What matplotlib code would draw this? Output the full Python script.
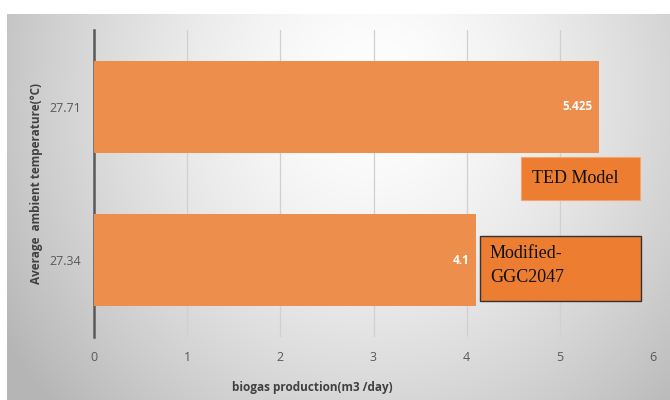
import numpy as np
import matplotlib
matplotlib.use("Agg")
import matplotlib.pyplot as plt

categories = ["27.34", "27.71"]
values = [4.1, 5.425]
value_labels = ["4.1", "5.425"]
xticks = [0, 1, 2, 3, 4, 5, 6]

W, H = 670, 400
fig = plt.figure(figsize=(W / 100, H / 100), dpi=100)
fig.patch.set_facecolor("white")

# gradient background panel
bx0, by0, bx1, by1 = 7, 14, 670, 400
bg = fig.add_axes([bx0 / W, 1 - by1 / H, (bx1 - bx0) / W, (by1 - by0) / H], zorder=0)
ny, nx = 200, 330
yy, xx = np.mgrid[0:ny, 0:nx]
cx, cy = nx * 0.55, ny * 0.2
r = np.sqrt(((xx - cx) / (nx * 0.55)) ** 2 + ((yy - cy) / (ny * 1.0)) ** 2)
r = np.clip(r, 0, 1.2)
val = 1.0 - 0.22 * r ** 1.5
img = np.dstack([val, val, val])
bg.imshow(img, aspect="auto", extent=[0, 1, 0, 1], interpolation="bilinear")
bg.set_axis_off()

ax = fig.add_axes([94 / W, 1 - 337 / H, (653 - 94) / W, (337 - 30) / H], zorder=1)
ax.patch.set_alpha(0)
y = np.arange(len(categories))
ax.barh(y, values, height=0.6, color="#EE8E4D", zorder=3)
ax.set_ylim(-0.5, 1.5)
ax.set_xlim(0, 6)
ax.set_xticks(xticks)
ax.set_yticks(y)
ax.set_yticklabels(categories)
ax.grid(axis="x", color="#D0D0D0", linewidth=0.9, zorder=0)
for s in ["top", "right", "bottom"]:
    ax.spines[s].set_visible(False)
ax.spines["left"].set_color("#595959")
ax.spines["left"].set_linewidth(1.8)
ax.tick_params(axis="both", length=0, colors="#595959", labelsize=9, pad=8)
ax.tick_params(axis="x", pad=10)
ax.tick_params(axis="y", pad=9)
for lab in ax.get_xticklabels() + ax.get_yticklabels():
    lab.set_family("Open Sans")
fig.text(312 / W, 1 - 388 / H, "biogas production(m3 /day)", fontsize=8.5,
         fontweight="bold", color="#404040", family="Open Sans", ha="center", va="center")
fig.text(37 / W, 1 - 184 / H, "Average  ambient temperature(°C)", fontsize=8.5,
         fontweight="bold", color="#404040", family="Open Sans", ha="center",
         va="center", rotation=90)

for yi, v, t in zip(y, values, value_labels):
    ax.text(v - 0.07, yi, t, ha="right", va="center", color="white",
            fontsize=8.5, fontweight="bold", family="Open Sans", zorder=4)

# annotation boxes (figure pixel coords)
def box(x0, y0, x1, y1, edge, lw):
    fig.patches.append(plt.Rectangle((x0 / W, 1 - y1 / H), (x1 - x0) / W, (y1 - y0) / H,
                                     transform=fig.transFigure, facecolor="#ED7D31",
                                     edgecolor=edge, linewidth=lw, zorder=5))

box(521, 157, 640, 200, "#F4A46E", 0.8)
fig.text(532 / W, 1 - 178 / H, "TED Model", fontsize=13, family="Liberation Serif",
         color="#111111", va="center", ha="left", zorder=6)
box(480, 236, 641, 301, "#333333", 1.0)
fig.text(490 / W, 1 - 254 / H, "Modified-", fontsize=13, family="Liberation Serif",
         color="#111111", va="center", ha="left", zorder=6)
fig.text(490 / W, 1 - 277 / H, "GGC2047", fontsize=13, family="Liberation Serif",
         color="#111111", va="center", ha="left", zorder=6)

fig.savefig("out.png", dpi=100)
